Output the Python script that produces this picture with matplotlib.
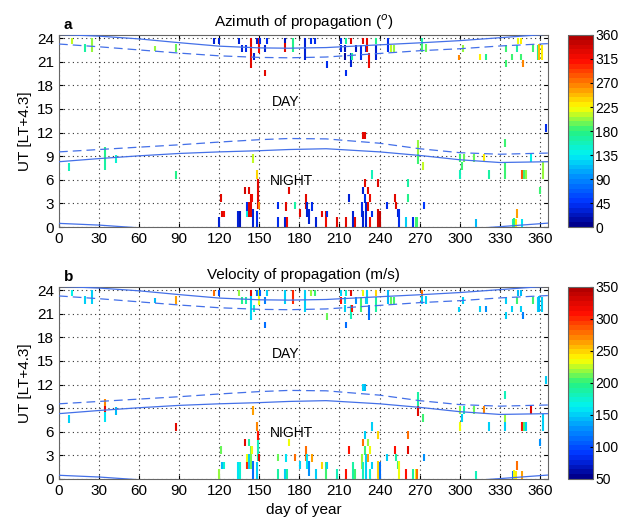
import numpy as np
import matplotlib
matplotlib.use("Agg")
import matplotlib.pyplot as plt
from matplotlib.colors import LinearSegmentedColormap, Normalize

plt.rcParams['font.family'] = ['Liberation Sans', 'DejaVu Sans']

# sunrise / sunset curves (UT hours)
curve_days = [0, 30, 60, 90, 120, 150, 172, 200, 240, 270, 300, 330, 366]
sunset_solid = [24.47, 24.25, 23.9, 23.42, 22.98, 22.76, 22.72, 22.8, 23.15, 23.4, 23.68, 24.05, 24.5]
sunset_dash = [23.25, 22.9, 22.5, 22.1, 21.75, 21.55, 21.5, 21.6, 22.05, 22.4, 22.65, 23.0, 23.3]
sunrise_solid = [8.3, 8.7, 9.05, 9.35, 9.55, 9.7, 9.85, 9.95, 9.55, 9.1, 8.55, 8.2, 8.3]
sunrise_dash = [9.55, 9.85, 10.15, 10.45, 10.8, 11.1, 11.25, 11.2, 10.65, 9.95, 9.45, 9.25, 9.4]

# events near the evening terminator
top_day = [9.5, 19.5, 25, 72, 87.5, 116, 120, 134.7, 136.7, 140,
           143.5, 143.5, 146.2, 148, 149.5, 150.7, 154.5, 154.5, 156, 169,
           169, 175.4, 184.4, 188.4, 191.6, 200.3, 210.8, 210.8, 214, 214,
           214.5, 215, 218.3, 218.3, 219.5, 222.3, 225.8, 227.8, 229.5, 230.3,
           232.3, 237.3, 237.3, 246.5, 248.3, 251, 271.5, 271.5, 274.7, 302.6,
           299.5, 315, 320, 334.3, 334.3, 339.3, 342.6, 343.8, 345.8, 346,
           347.6, 355, 358.5, 359.5, 361.3]
top_start = [23.3, 22.2, 22.2, 22.4, 22.2, 23.3, 23.3, 23.3, 22.2, 22.2,
             23.2, 20.2, 21.2, 23.3, 22.1, 23.3, 19.2, 22.2, 23.3, 23.4,
             22.2, 22.2, 21.2, 23.3, 23.3, 20.25, 23.3, 22.2, 21.2, 22.2,
             19.2, 23.3, 23.3, 20.3, 21.2, 22.2, 21.2, 23.3, 22.2, 22.2,
             20.2, 23.3, 21.2, 22.2, 22.2, 22.2, 23.3, 22.2, 22.2, 22.2,
             21.2, 21.2, 21.2, 22.2, 20.3, 21.2, 22.2, 23.3, 23.3, 21.2,
             20.3, 22.2, 21.2, 21.2, 21.2]
top_end = [24, 23.2, 24, 23.0, 23.2, 24, 24, 24, 23.1, 23.1,
           24, 23.2, 22.1, 24, 24, 24, 20.0, 23.1, 24, 24,
           23.4, 24, 24, 24, 24, 21.1, 24, 23.1, 22.1, 23.1,
           20.0, 24, 24, 22.1, 22.1, 23.1, 23.1, 24, 23.1, 24,
           22.1, 24, 23.1, 24, 23.1, 23.1, 24, 23.2, 23.2, 23.1,
           21.8, 22.0, 22.0, 23.1, 21.2, 22.0, 23.1, 24, 24, 22.0,
           21.2, 23.1, 23.1, 23.3, 23.1]
top_az = [210, 165, 205, 205, 195, 30, 35, 35, 35, 40,
          330, 330, 30, 35, 320, 40, 330, 35, 40, 20,
          330, 175, 35, 40, 40, 40, 40, 40, 10, 25,
          40, 170, 330, 35, 170, 20, 40, 330, 40, 330,
          320, 175, 35, 40, 210, 205, 170, 180, 190, 200,
          265, 225, 175, 185, 180, 180, 165, 220, 225, 180,
          265, 185, 175, 250, 230]
top_vel = [165, 150, 150, 145, 260, 280, 100, 220, 195, 185,
           320, 150, 175, 110, 230, 105, 110, 120, 150, 150,
           150, 300, 150, 215, 205, 210, 150, 310, 150, 150,
           110, 170, 320, 180, 310, 130, 200, 230, 150, 150,
           110, 250, 190, 145, 210, 200, 280, 150, 150, 150,
           150, 150, 130, 150, 150, 150, 200, 140, 145, 150,
           120, 200, 150, 145, 150]

# events around the morning terminator
mid_day = [364.5, 7.5, 34.4, 34.4, 34.4, 42.7, 87.3, 145, 148, 149.2,
           149.2, 227.5, 229, 234, 269, 269, 272.2, 300.1, 300.1, 301.4,
           303.4, 310.6, 318.1, 322.1, 333.8, 333.8, 333.8, 346.3, 348, 349.5,
           353.3, 360, 362]
mid_start = [12.1, 7.1, 9.3, 8.5, 7.2, 8.1, 6.15, 8.1, 6.15, 5.0,
             2.3, 11.2, 11.2, 6.15, 9.33, 8.05, 7.2, 8.26, 6.15, 7.2,
             8.26, 8.26, 8.26, 6.15, 10.2, 7.2, 6.15, 6.15, 6.15, 6.15,
             8.26, 4.25, 6.15]
mid_end = [13.1, 8.1, 10.2, 9.3, 8.5, 9.2, 7.1, 9.3, 7.2, 6.15,
           5.0, 12.1, 12.1, 7.2, 11.0, 9.33, 8.26, 9.33, 7.2, 8.26,
           9.33, 9.33, 9.33, 7.2, 11.2, 8.26, 7.2, 7.2, 7.2, 7.2,
           9.33, 5.1, 8.26]
mid_az = [40, 160, 175, 175, 165, 150, 175, 215, 240, 330,
          330, 330, 330, 160, 200, 180, 210, 185, 155, 185,
          190, 195, 225, 170, 180, 185, 180, 280, 180, 200,
          140, 180, 200]
mid_vel = [150, 150, 270, 320, 160, 140, 320, 260, 270, 310,
           180, 150, 140, 150, 190, 320, 200, 220, 230, 150,
           180, 210, 270, 150, 180, 220, 150, 310, 200, 150,
           320, 130, 150]

# night-time events
night_day = [119.8, 121.3, 122, 123.5, 134.2, 135.5, 139.2, 140.4, 140.4, 142.1,
             142.1, 143.5, 144.2, 145.4, 148, 150, 164, 164, 169, 170.3,
             172.2, 171, 176.4, 180.4, 184.9, 185.9, 187.4, 189.1, 192.4, 196.6,
             199.9, 200.8, 207.9, 214.6, 217, 219.8, 221.6, 226.6, 227.8, 227.8,
             229, 229, 229.8, 231.5, 231.5, 232.8, 232.8, 234.5, 239, 239,
             240.3, 245.3, 251.5, 252.2, 253.5, 254.5, 259.7, 261.5, 261.5, 265.2,
             267.2, 268.2, 273.2, 311.9, 340, 341, 342.6, 342, 346.3]
night_start = [0, 3.2, 1.27, 1.27, 0, 0, 4.2, 1.27, 2.1, 4.2,
               1.27, 1.27, 3.2, 0, 0, 2.3, 2.33, 0, 0, 2.1,
               4.2, 0, 2.3, 1.27, 2.3, 1.27, 0.4, 2.1, 0, 1.27,
               0, 1.27, 0, 0, 3.2, 0, 0, 1.27, 4.2, 0,
               5.1, 3.0, 0, 4.2, 2.1, 3.2, 0, 1.27, 5.1, 0,
               0, 2.3, 3.2, 2.3, 1.27, 0, 0, 5.1, 3.2, 0,
               0, 0, 2.3, 0, 0, 0, 1.2, 0, 0]
night_end = [1.27, 4.2, 2.1, 2.1, 2.1, 2.1, 5.1, 2.1, 3.2, 5.1,
             3.2, 4.2, 4.2, 2.3, 2.1, 3.2, 3.2, 1.27, 1.27, 3.2,
             5.1, 1.27, 3.2, 2.3, 4.2, 3.2, 2.3, 3.2, 1.27, 2.1,
             2.1, 2.1, 1.27, 1.27, 4.2, 2.1, 1.27, 3.2, 5.1, 2.1,
             6.15, 4.25, 3.2, 5.1, 3.2, 4.25, 1.27, 2.1, 6.15, 2.3,
             2.1, 3.2, 4.2, 3.2, 2.3, 2.3, 1.27, 6.15, 4.2, 1.27,
             1.27, 1.27, 3.2, 1.0, 1.0, 1.2, 2.25, 1.0, 1.0]
night_az = [30, 330, 330, 320, 30, 25, 340, 140, 40, 330,
            330, 330, 320, 30, 40, 265, 40, 40, 35, 330,
            330, 320, 170, 330, 330, 30, 35, 40, 35, 330,
            320, 40, 330, 330, 35, 30, 330, 40, 35, 30,
            330, 40, 30, 330, 330, 320, 320, 40, 330, 335,
            345, 40, 330, 330, 35, 40, 120, 165, 175, 40,
            180, 185, 50, 110, 160, 175, 255, 230, 130]
night_vel = [220, 210, 140, 170, 160, 170, 320, 300, 230, 190,
             150, 210, 230, 110, 150, 320, 210, 190, 150, 160,
             230, 190, 280, 150, 280, 160, 130, 260, 150, 250,
             200, 150, 180, 310, 310, 190, 200, 220, 280, 180,
             150, 200, 150, 220, 260, 230, 170, 150, 250, 250,
             110, 150, 310, 190, 200, 230, 310, 280, 320, 190,
             230, 280, 130, 180, 110, 230, 280, 240, 260]

ev_day = top_day + mid_day + night_day
ev_start = top_start + mid_start + night_start
ev_end = top_end + mid_end + night_end
ev_az = top_az + mid_az + night_az
ev_vel = top_vel + mid_vel + night_vel

cmap = LinearSegmentedColormap.from_list('azi', [
    (0.0, (0.0, 0.0, 0.55)),
    (0.12, (0.0, 0.2, 1.0)),
    (0.25, (0.0, 0.55, 1.0)),
    (0.375, (0.0, 0.95, 0.95)),
    (0.5, (0.15, 0.95, 0.5)),
    (0.625, (1.0, 1.0, 0.0)),
    (0.75, (1.0, 0.5, 0.0)),
    (0.875, (1.0, 0.05, 0.0)),
    (1.0, (0.7, 0.0, 0.0))], N=40)

line_col = '#4470e8'

fig = plt.figure(figsize=(6.18, 5.22), dpi=100)

panels = [
    (0.565, ev_az, 0, 360, list(range(0, 361, 45)), 'Azimuth of propagation ($^o$)', 'a'),
    (0.0824, ev_vel, 50, 350, list(range(50, 351, 50)), 'Velocity of propagation (m/s)', 'b'),
]

for bottom, vals, vmin, vmax, cticks, title, letter in panels:
    ax = fig.add_axes([0.0955, bottom, 0.791, 0.368])
    norm = Normalize(vmin, vmax)
    ax.vlines(ev_day, ev_start, ev_end, colors=cmap(norm(np.array(vals))), lw=1.5, zorder=3)

    days = np.array(curve_days)
    for curve, ls in [(sunset_solid, '-'), (sunrise_solid, '-'),
                      (sunset_dash, '--'), (sunrise_dash, '--')]:
        c = np.array(curve)
        for shift in (0, -24):
            l, = ax.plot(days, c + shift, color=line_col, lw=0.9, ls=ls, zorder=4)
            if ls == '--':
                l.set_dashes((7, 4))

    ax.text(170, 15.9, 'DAY', ha='center', va='center', fontsize=10)
    ax.text(174, 5.9, 'NIGHT', ha='center', va='center', fontsize=10)

    ax.set_xlim(0, 366)
    ax.set_ylim(0, 24.4)
    ax.set_xticks(range(0, 361, 30))
    ax.set_yticks(range(0, 25, 3))
    ax.grid(True, color='#333333', ls=(0, (1, 3)), lw=0.8)
    ax.tick_params(direction='in', top=True, right=True, labelsize=11, length=3)
    for s in ax.spines.values():
        s.set_color('#666666')
    ax.set_ylabel('UT [LT+4.3]', fontsize=11)
    ax.set_title(title, fontsize=11, pad=6)
    ax.text(0.01, 1.015, letter, transform=ax.transAxes, fontsize=11,
            fontweight='bold', ha='left', va='bottom')
    if letter == 'b':
        ax.set_xlabel('day of year', fontsize=11)

    cax = fig.add_axes([0.919, bottom, 0.041, 0.368])
    sm = plt.cm.ScalarMappable(norm=norm, cmap=cmap)
    cb = fig.colorbar(sm, cax=cax, ticks=cticks)
    cb.ax.tick_params(labelsize=10, direction='in', length=2, pad=1.5)
    cb.outline.set_edgecolor('#666666')

fig.savefig('out.png', dpi=100)
